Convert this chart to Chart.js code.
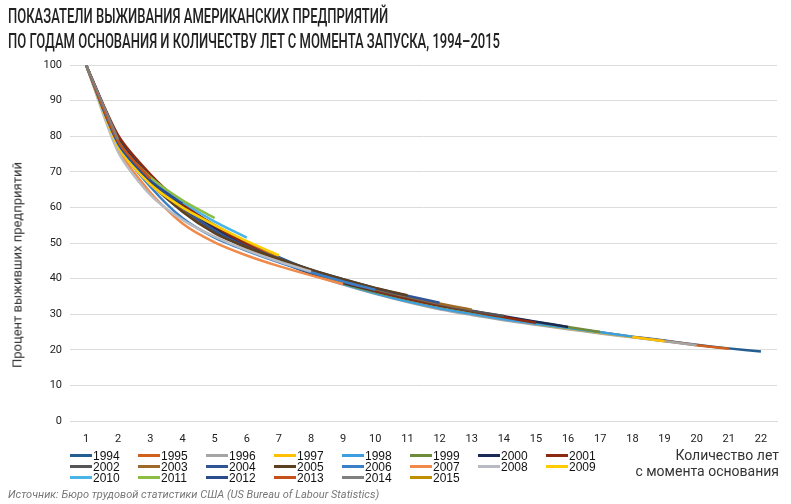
<!DOCTYPE html>
<html lang="ru">
<head>
  <meta charset="UTF-8" />
  <title>Показатели выживания американских предприятий</title>
  <script src="https://cdn.jsdelivr.net/npm/chart.js"></script>
  <style>
    body {
      margin: 0;
      padding: 0;
      background: #fff;
      width: 791px;
      height: 504px;
      position: relative;
      overflow: hidden;
      font-family: 'Roboto', sans-serif;
    }
    #chart {
      position: absolute;
      left: 0;
      top: 0;
    }
    .title {
      position: absolute;
      left: 8px;
      top: 4px;
      font-size: 21px;
      font-weight: 500;
      color: #222;
      line-height: 25px;
      transform-origin: left top;
      white-space: nowrap;
    }
    .title span { display: block; }
    .y-title {
      position: absolute;
      left: 17px;
      top: 265px;
      transform: translate(-50%, -50%) rotate(-90deg);
      font-size: 13px;
      color: #333;
      white-space: nowrap;
    }
    .x-title {
      position: absolute;
      right: 12px;
      top: 447px;
      text-align: right;
      font-size: 14px;
      line-height: 16px;
      color: #333;
    }
    .legend {
      position: absolute;
      left: 70px;
      top: 451px;
      font-family: 'Liberation Sans', Arial, sans-serif;
      font-size: 12px;
      color: #111;
    }
    .legend .item {
      position: absolute;
      height: 11px;
      line-height: 11px;
      white-space: nowrap;
    }
    .legend .sw {
      display: inline-block;
      width: 22px;
      height: 3px;
      vertical-align: middle;
      margin-right: 1px;
      position: relative;
      top: -1px;
    }
    .source {
      position: absolute;
      left: 8px;
      top: 488px;
      font-size: 11px;
      font-style: italic;
      color: #777;
      white-space: nowrap;
    }
  </style>
</head>
<body>
  <canvas id="chart" width="791" height="504"></canvas>
  <div class="title" id="title">
    <span>ПОКАЗАТЕЛИ ВЫЖИВАНИЯ АМЕРИКАНСКИХ ПРЕДПРИЯТИЙ</span>
    <span>ПО ГОДАМ ОСНОВАНИЯ И КОЛИЧЕСТВУ ЛЕТ С МОМЕНТА ЗАПУСКА, 1994–2015</span>
  </div>
  <div class="y-title">Процент выживших предприятий</div>
  <div class="x-title">Количество лет<br>с момента основания</div>
  <div class="legend" id="legend"></div>
  <div class="source">Источник: Бюро трудовой статистики США (US Bureau of Labour Statistics)</div>

  <script>
    // years since founding
    const years = ['1','2','3','4','5','6','7','8','9','10','11','12','13','14','15','16','17','18','19','20','21','22'];
    const yTicks = [0, 10, 20, 30, 40, 50, 60, 70, 80, 90, 100];

    // survival % by founding year
    const cohorts = ['1994','1995','1996','1997','1998','1999','2000','2001','2002','2003','2004',
                     '2005','2006','2007','2008','2009','2010','2011','2012','2013','2014','2015'];
    const s1994 = [100, 79.7, 68.5, 60.8, 55.0, 50.2, 46.0, 42.3, 39.2, 36.5, 34.0, 32.0, 30.3, 28.8, 27.4, 26.1, 24.9, 23.7, 22.6, 21.4, 20.4, 19.5];
    const s1995 = [100, 79.0, 68.0, 60.5, 54.6, 49.8, 45.7, 42.0, 38.9, 36.2, 33.8, 31.8, 30.1, 28.6, 27.2, 26.0, 24.8, 23.6, 22.5, 21.3, 20.3];
    const s1996 = [100, 77.5, 66.5, 59.2, 53.5, 48.8, 44.8, 41.3, 38.3, 35.7, 33.4, 31.4, 29.8, 28.3, 27.0, 25.8, 24.6, 23.5, 22.4, 21.3];
    const s1997 = [100, 78.0, 67.2, 59.6, 53.9, 49.2, 45.3, 41.8, 38.8, 36.2, 33.9, 31.9, 30.2, 28.7, 27.3, 26.0, 24.8, 23.6, 22.4];
    const s1998 = [100, 78.5, 67.5, 60.0, 54.2, 49.3, 45.2, 41.6, 38.5, 35.9, 33.6, 31.7, 30.1, 28.6, 27.3, 26.1, 24.9, 23.7];
    const s1999 = [100, 79.0, 68.0, 60.5, 54.5, 49.5, 45.3, 41.7, 38.6, 36.2, 34.2, 32.3, 30.7, 29.2, 27.8, 26.4, 25.0];
    const s2000 = [100, 79.2, 68.3, 60.5, 54.3, 49.2, 45.0, 41.5, 38.8, 36.5, 34.4, 32.5, 30.9, 29.4, 27.9, 26.4];
    const s2001 = [100, 80.2, 69.3, 61.0, 54.8, 49.6, 45.3, 41.8, 39.0, 36.6, 34.4, 32.5, 30.8, 29.2, 27.6];
    const s2002 = [100, 78.8, 67.8, 59.8, 53.5, 48.5, 44.8, 41.8, 39.2, 36.9, 34.8, 32.8, 31.0, 29.5];
    const s2003 = [100, 78.5, 67.5, 59.5, 53.4, 48.6, 45.2, 42.2, 39.5, 37.1, 35.0, 33.0, 31.3];
    const s2004 = [100, 78.7, 67.9, 59.8, 53.5, 49.0, 45.6, 42.5, 39.8, 37.3, 35.2, 33.2];
    const s2005 = [100, 78.2, 67.0, 58.8, 52.8, 48.8, 45.5, 42.5, 39.8, 37.4, 35.3];
    const s2006 = [100, 77.5, 65.8, 57.0, 51.5, 47.8, 44.6, 41.8, 39.2, 36.9];
    const s2007 = [100, 76.5, 64.2, 55.5, 50.2, 46.5, 43.5, 40.9, 38.5];
    const s2008 = [100, 75.5, 63.5, 56.5, 51.8, 48.0, 44.8, 42.0];
    const s2009 = [100, 77.0, 66.5, 60.0, 55.0, 50.5, 46.5];
    const s2010 = [100, 77.8, 67.8, 61.5, 56.0, 51.5];
    const s2011 = [100, 78.5, 68.5, 62.0, 57.0];
    const s2012 = [100, 78.0, 67.5, 61.0];
    const s2013 = [100, 78.5, 68.0];
    const s2014 = [100, 79.0];
    const s2015 = [100];

    const series = [s1994, s1995, s1996, s1997, s1998, s1999, s2000, s2001, s2002, s2003, s2004,
                    s2005, s2006, s2007, s2008, s2009, s2010, s2011, s2012, s2013, s2014, s2015];
    const colors = ['#255e91', '#d0601b', '#a5a5a5', '#ffc000', '#3d9ee0', '#6e8b3d', '#1b2a55', '#8b2a10',
                    '#555555', '#9e6a2b', '#2f5597', '#5b3f20', '#3a80c8', '#f08a4b', '#b8bcc2', '#ffcc00',
                    '#4ab4e8', '#8cbe45', '#2b4c8c', '#c4501b', '#7f7f7f', '#bf8f00'];

    const datasets = cohorts.map((c, i) => ({
      label: c,
      data: series[i],
      borderColor: colors[i],
      backgroundColor: colors[i],
      borderWidth: 2.5,
      pointRadius: 0,
      tension: 0.25,
      order: cohorts.length - i,
    }));

    new Chart(document.getElementById('chart'), {
      type: 'line',
      data: { labels: years, datasets },
      options: {
        responsive: false,
        animation: false,
        layout: { padding: { left: 0, right: 14, top: 65, bottom: 0 } },
        plugins: { legend: { display: false }, tooltip: { enabled: false } },
        scales: {
          x: {
            offset: true,
            grid: { display: false },
            border: { color: '#d9d9d9' },
            ticks: { color: '#222', font: { family: 'Roboto', size: 11 }, padding: 4, maxRotation: 0 },
            afterFit: s => { s.height = 83; }
          },
          y: {
            min: 0,
            max: 100,
            afterBuildTicks: s => { s.ticks = yTicks.map(v => ({ value: v })); },
            grid: { color: '#dcdcdc', drawTicks: false },
            border: { display: false },
            ticks: { color: '#222', font: { family: 'Roboto', size: 11 }, padding: 8 },
            afterFit: s => { s.width = 70; }
          }
        }
      }
    });

    // legend: 8 columns, row-major
    const legend = document.getElementById('legend');
    cohorts.forEach((c, i) => {
      const el = document.createElement('div');
      el.className = 'item';
      el.style.left = (i % 8) * 68 + 'px';
      el.style.top = Math.floor(i / 8) * 11 + 'px';
      el.innerHTML = `<span class="sw" style="background:${colors[i]}"></span>${c}`;
      legend.appendChild(el);
    });

    // squeeze title to the condensed width of the original
    const title = document.getElementById('title');
    const w = title.getBoundingClientRect().width;
    title.style.transform = `scaleX(${492 / w})`;
  </script>
</body>
</html>
